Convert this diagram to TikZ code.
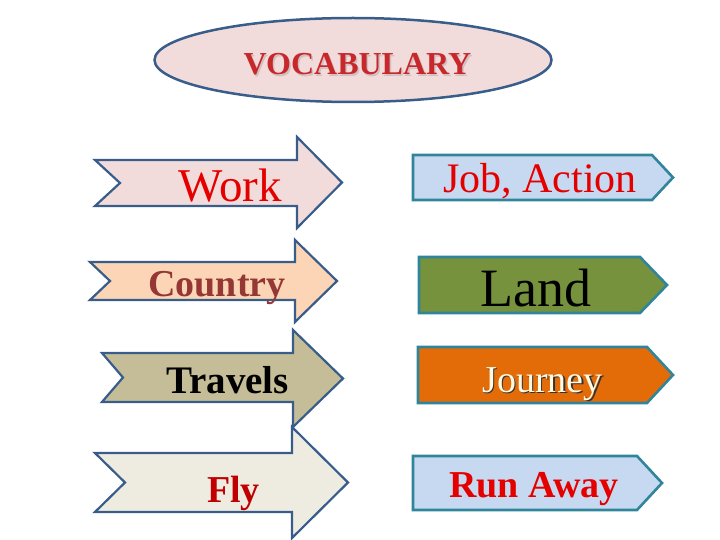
\documentclass[tikz,border=0pt]{standalone}
\usepackage{fontspec}
\setmainfont{Liberation Serif}
\usetikzlibrary{shapes.geometric}

\definecolor{ovalfill}{RGB}{242,220,219}
\definecolor{lineblue}{RGB}{56,93,138}
\definecolor{tagline}{RGB}{49,133,155}
\definecolor{titlered}{RGB}{200,40,44}
\definecolor{workfill}{RGB}{242,220,219}
\definecolor{countryfill}{RGB}{251,213,181}
\definecolor{travelsfill}{RGB}{196,189,151}
\definecolor{flyfill}{RGB}{238,236,225}
\definecolor{bluefill}{RGB}{198,217,241}
\definecolor{landfill}{RGB}{118,146,60}
\definecolor{journeyfill}{RGB}{227,108,9}
\definecolor{brownred}{RGB}{149,55,52}
\definecolor{darkred}{RGB}{192,0,0}
\definecolor{cream}{RGB}{255,250,225}

\tikzset{
  notched/.style={draw=lineblue, line width=2.2pt, line join=miter},
  tagbox/.style={draw=tagline, line width=2.6pt, line join=miter},
  word/.style={inner sep=0pt, anchor=base},
}
\newcommand{\fsz}[1]{\fontsize{#1pt}{#1pt}\selectfont}

\begin{document}
\begin{tikzpicture}[x=1pt, y=-1pt]
	\useasboundingbox (0,0) rectangle (720,540);
	% title
	\node[ellipse, draw=lineblue, fill=ovalfill, line width=2.5pt, minimum width=397pt, minimum height=84pt] (oval) at (353,60) {};
	\node[word, text=ovalfill!70!gray, font=\fsz{32}\bfseries] (titleshadow) at (359,76.5) {VOCABULARY};
	\node[word, text=titlered, font=\fsz{32}\bfseries] (title) at (357.5,75) {VOCABULARY};
	% left arrows: tail/notch/shaft/tip/body top/body bottom/head top/head bottom/fill
	\foreach \tl/\nx/\sx/\tx/\bt/\bb/\ht/\hb/\col in {95/120/297/342/160/206/137/228/workfill,
		90/110/295/337/262/300/240/322/countryfill,
		102/123/293/343/353/402/330/427/travelsfill,
		95/125/292/348/453/512/427/538/flyfill}
	{\draw[notched, fill=\col] (\tl,\bt) -- (\sx,\bt) -- (\sx,\ht) -- (\tx,{(\ht+\hb)/2}) -- (\sx,\hb) -- (\sx,\bb) -- (\tl,\bb) -- (\nx,{(\bt+\bb)/2}) -- cycle;}
	% right tags: left/base/tip/top/bottom/fill
	\foreach \lx/\bx/\tx/\tp/\bm/\col in {413/652/673/155/200/bluefill,
		419/640/667/257/313/landfill,
		418/647/673/347/403/journeyfill,
		413/637/662/456/510/bluefill}
	{\draw[tagbox, fill=\col] (\lx,\tp) -- (\bx,\tp) -- (\tx,{(\tp+\bm)/2}) -- (\bx,\bm) -- (\lx,\bm) -- cycle;}
	% words
	\node[word, text=red!90!black, font=\fsz{47}] (work) at (230.5,202) {Work};
	\node[word, text=brownred, font=\fsz{38}\bfseries] (country) at (217,296) {Country};
	\node[word, text=black, font=\fsz{39}\bfseries] (travels) at (227.5,393) {Travels};
	\node[word, text=darkred, font=\fsz{38}\bfseries] (fly) at (233.5,502) {Fly};
	\node[word, text=red!90!black, font=\fsz{42}] (job) at (540,193) {Job, Action};
	\node[word, text=black, font=\fsz{54}] (land) at (536,306) {Land};
	\node[word, text=black!80, font=\fsz{38}] (journeyshadow) at (544,393.5) {Journey};
	\node[word, text=cream, font=\fsz{38}] (journey) at (542.5,392) {Journey};
	\node[word, text=red!90!black, font=\fsz{38}\bfseries] (runaway) at (534,497) {Run Away};
\end{tikzpicture}
\end{document}
